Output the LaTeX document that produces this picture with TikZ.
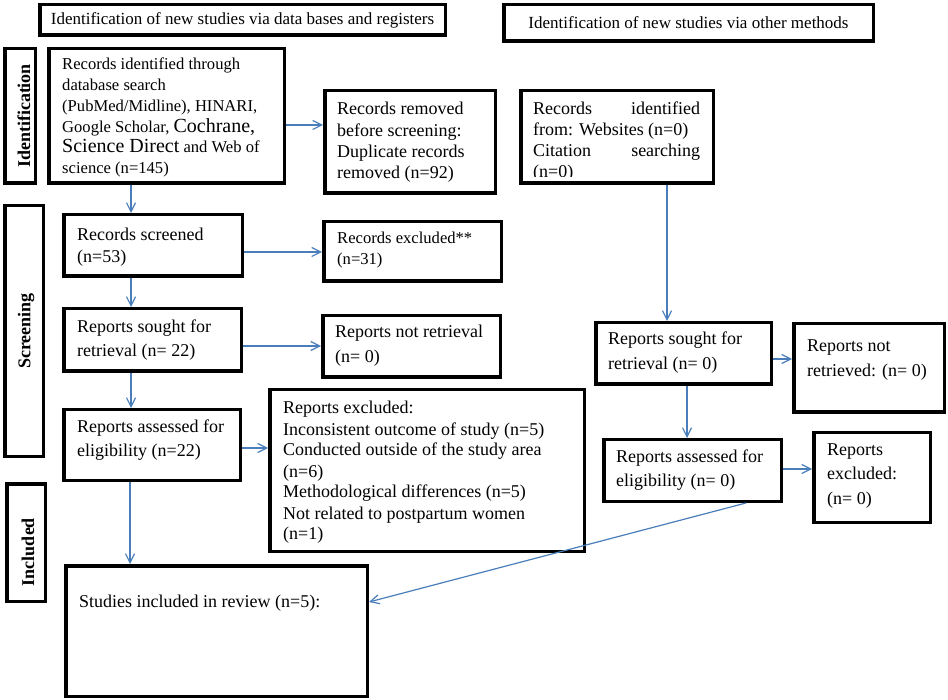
\documentclass[tikz,border=0pt]{standalone}
\usepackage{fontspec}
\setmainfont{Liberation Serif}
\usetikzlibrary{arrows.meta}
\definecolor{arrblue}{HTML}{4A7EBB}
\newcommand\mybox[5]{\node[box, minimum width={(#4-#2-3.5)*1pt}, minimum height={(#5-#3-3.5)*1pt}] (#1) at ({(#2+#4)/2},{(#3+#5)/2}) {};}
\newcommand\fs[2]{\fontsize{#1}{#2}\selectfont}
\begin{document}
\begin{tikzpicture}[x=1pt,y=-1pt,
  box/.style={draw, line width=3.5pt, rectangle, inner sep=0pt},
  txt/.style={anchor=base west, inner sep=0pt, align=left},
  lab/.style={rotate=90, inner sep=0pt, font=\bfseries\fs{18}{21}},
  arr/.style={draw=arrblue, line width=1.2pt, -{Straight Barb[length=9pt,width=9pt]}}]
\useasboundingbox (0,0) rectangle (948,700);
% boxes
\mybox{hdL}{38}{3}{447}{37}
\mybox{hdR}{502}{3}{875}{43}
\mybox{labIdB}{3}{47}{37}{185}
\mybox{recid}{47}{47}{286}{185}
\mybox{recrem}{323}{89}{497}{195}
\mybox{web}{519}{89}{715}{185}
\mybox{labScrB}{3}{204}{45}{458}
\mybox{scr}{62}{213}{244}{278}
\mybox{exc}{322}{220}{503}{283}
\mybox{sought}{62}{307}{243}{373}
\mybox{notret}{321}{314}{502}{379}
\mybox{assess}{62}{408}{242}{482}
\mybox{repexc}{268}{388}{586}{553}
\mybox{labIncB}{5}{482}{47}{603}
\mybox{studies}{64}{564}{369}{698}
\mybox{osought}{594}{321}{773}{386}
\mybox{onotret}{792}{322}{946}{414}
\mybox{oassess}{602}{438}{783}{503}
\mybox{oexc}{812}{431}{932}{524}
% headers
\node[font=\fs{17}{20}, inner sep=0pt] (hdLt) at (hdL) {Identification of new studies via data bases and registers};
\node[font=\fs{17}{20}, inner sep=0pt] (hdRt) at (hdR) {Identification of new studies via other methods};
% side labels
\node[lab] (labId) at (24,116) {Identification};
\node[lab] (labScr) at (26,331) {Screening};
\node[lab] (labInc) at (28,552) {Included};
% texts
\node[txt] (t1) at (62,70) {\fs{16.6}{20.7}\parbox[t]{230pt}{\lineskiplimit=-30pt\lineskip=0pt Records identified through\\ database search\\ (PubMed/Midline), HINARI,\\ Google Scholar, {\fontsize{20}{20.7}\selectfont Cochrane,}\\ {\fontsize{20}{20.7}\selectfont Science Direct} and Web of\\ science (n=145)}};
\node[txt] (t2) at (337,115) {\fs{18}{21.3}\parbox[t]{160pt}{Records removed\\ before screening:\\ Duplicate records\\ removed (n=92)}};
\begin{scope}
\clip (525,92) rectangle (712,177);
\node[txt] (t3) at (533,115) {\fs{18}{21}\parbox[t]{167pt}{Records\hfill identified\\ from: Websites (n=0)\\ Citation\hfill searching\\ (n=0)}};
\end{scope}
\node[txt] (t4) at (77,240.5) {\fs{18}{22.5}\parbox[t]{160pt}{Records screened\\ (n=53)}};
\node[txt] (t5) at (337,244) {\fs{16.6}{21}\parbox[t]{160pt}{Records excluded**\\ (n=31)}};
\node[txt] (t6) at (77,332.5) {\fs{18}{24}\parbox[t]{160pt}{Reports sought for\\ retrieval (n= 22)}};
\node[txt] (t7) at (335,338) {\fs{18}{25}\parbox[t]{170pt}{Reports not retrieval\\ (n= 0)}};
\node[txt] (t8) at (77,433) {\fs{18}{24}\parbox[t]{160pt}{Reports assessed for\\ eligibility (n=22)}};
\node[txt] (t9) at (283,414) {\fs{18}{21}\parbox[t]{300pt}{Reports excluded:\\ Inconsistent outcome of study (n=5)\\ Conducted outside of the study area\\ (n=6)\\ Methodological differences (n=5)\\ Not related to postpartum women\\ (n=1)}};
\node[txt] (t10) at (79,607) {\fs{18}{21}Studies included in review (n=5):};
\node[txt] (t11) at (608,345) {\fs{18}{25}\parbox[t]{160pt}{Reports sought for\\ retrieval (n= 0)}};
\node[txt] (t12) at (807,352) {\fs{18}{25}\parbox[t]{140pt}{Reports not\\ retrieved: (n= 0)}};
\node[txt] (t13) at (616,463) {\fs{18}{24}\parbox[t]{165pt}{Reports assessed for\\ eligibility (n= 0)}};
\node[txt] (t14) at (827,455) {\fs{18}{24.5}\parbox[t]{100pt}{Reports\\ excluded:\\ (n= 0)}};
% connectors
\coordinate (a1) at ([yshift=-9pt]recid.east);
\draw[arr] (a1) -- (a1 -| recrem.west);
\coordinate (a2) at ([xshift=-35.5pt]recid.south);
\draw[arr] (a2) -- (a2 |- scr.north);
\coordinate (a3) at ([yshift=-6.5pt]scr.east);
\draw[arr] (a3) -- (a3 -| exc.west);
\coordinate (a4) at ([xshift=-22pt]scr.south);
\draw[arr] (a4) -- (a4 |- sought.north);
\coordinate (a5) at ([yshift=-6pt]sought.east);
\draw[arr] (a5) -- (a5 -| notret.west);
\coordinate (a6) at ([xshift=-21.5pt]sought.south);
\draw[arr] (a6) -- (a6 |- assess.north);
\coordinate (a7) at ([yshift=-3pt]assess.east);
\draw[arr] (a7) -- (a7 -| repexc.west);
\coordinate (a8) at ([xshift=-22pt]assess.south);
\draw[arr] (a8) -- (a8 |- studies.north);
\coordinate (a9) at ([xshift=50pt]web.south);
\draw[arr] (a9) -- (a9 |- osought.north);
\coordinate (a10) at ([yshift=-5.5pt]osought.east);
\draw[arr] (a10) -- (a10 -| onotret.west);
\coordinate (a11) at ([xshift=3.5pt]osought.south);
\draw[arr] (a11) -- (a11 |- oassess.north);
\coordinate (a12) at ([yshift=1.5pt]oassess.east);
\draw[arr] (a12) -- (a12 -| oexc.west);
\draw[arr] ([xshift=53.5pt]oassess.south) -- ([yshift=29pt]studies.east);
\end{tikzpicture}
\end{document}
